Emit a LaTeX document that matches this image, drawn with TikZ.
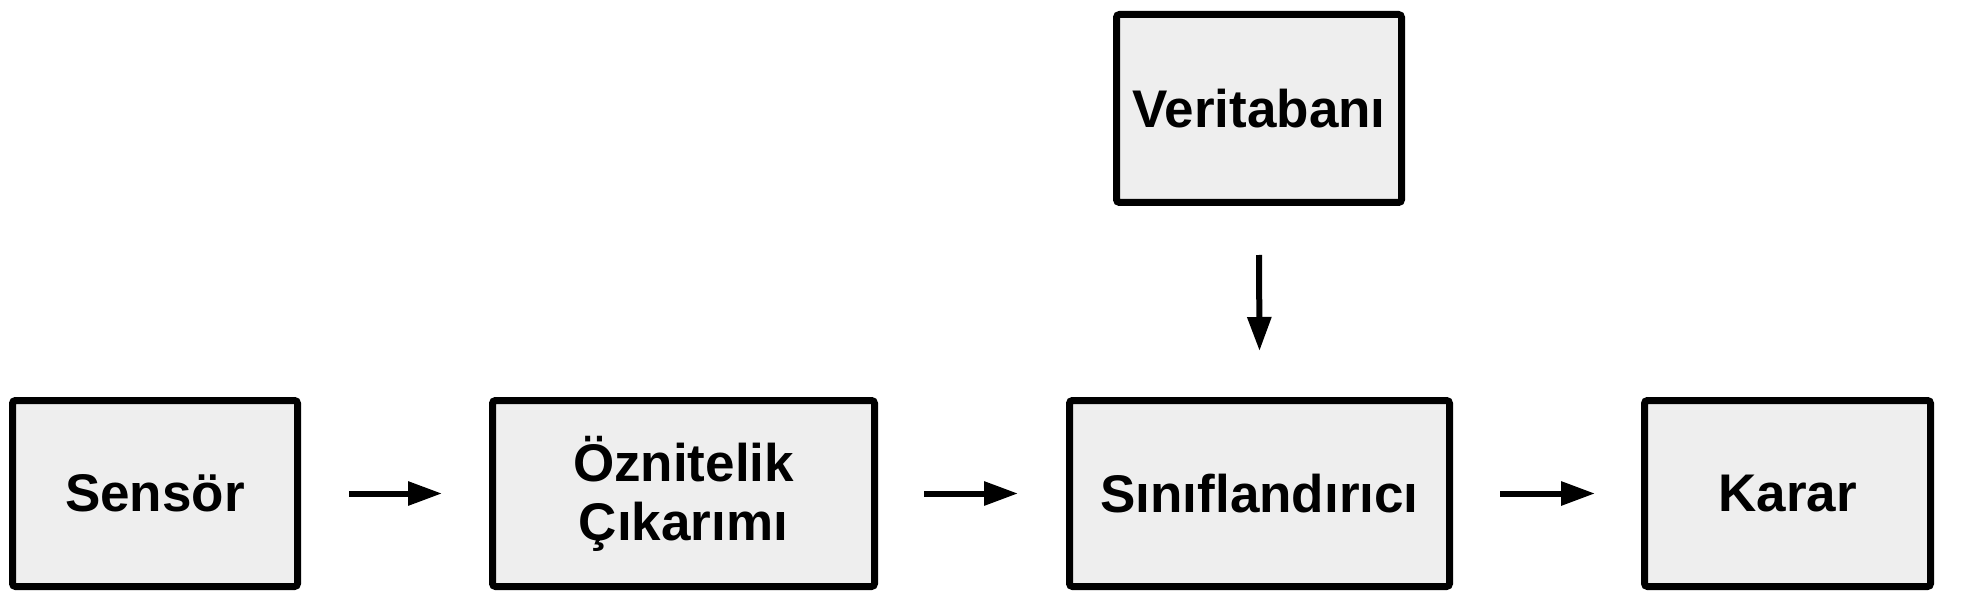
\documentclass[tikz,border=0pt]{standalone}
\usepackage{fontspec}
\setmainfont{Liberation Sans}
\usetikzlibrary{arrows.meta}
\definecolor{boxfill}{HTML}{EEEEEE}
\begin{document}
\begin{tikzpicture}[x=1pt,y=1pt,
  blk/.style={draw=black, fill=boxfill, line width=7pt, rounded corners=3pt,
    minimum height=186pt, align=center, inner sep=0pt,
    font=\fontsize{53}{59}\selectfont\bfseries},
  conn/.style={line width=6pt, -{Triangle[length=34pt,width=23pt]}}]
\useasboundingbox (0,0) rectangle (1961,-601);
\fill[white] (0,0) rectangle (1961,-601);
\node[blk, minimum width=285pt] (sensor) at (155,-493.5) {Sensör};
\node[blk, minimum width=382pt] (oz) at (683.5,-493.5) {Öznitelik\\Çıkarımı};
\node[blk, minimum width=380pt] (sin) at (1259.5,-493.5) {Sınıflandırıcı};
\node[blk, minimum width=286pt] (karar) at (1787.5,-493.5) {Karar};
\node[blk, minimum width=285pt, minimum height=188pt] (vt) at (1259,-108.5) {Veritabanı};
\draw[conn] ([xshift=48pt]sensor.east) -- ([xshift=-47pt]oz.west);
\draw[conn] ([xshift=46pt]oz.east) -- ([xshift=-48pt]sin.west);
\draw[conn] ([xshift=47pt]sin.east) -- ([xshift=-46pt]karar.west);
\draw[conn] ([yshift=-49pt]vt.south) -- ([yshift=46pt]sin.north);
\end{tikzpicture}
\end{document}
